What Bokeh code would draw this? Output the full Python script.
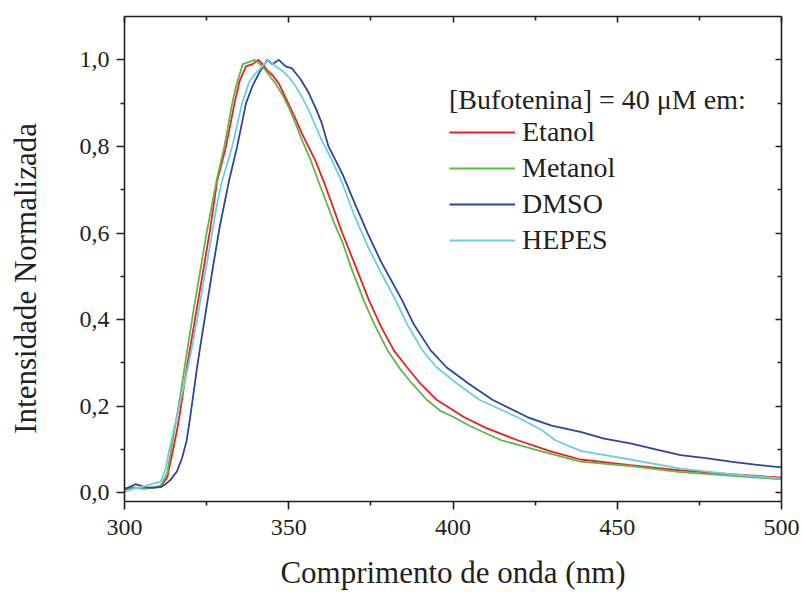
from bokeh.plotting import figure
from bokeh.models import (Legend, LegendItem, LinearAxis, FixedTicker, Range1d,
                          CustomJSTickFormatter)
from bokeh.embed import file_html
from bokeh.resources import INLINE

# ---------------- data ----------------
etanol_x = [300, 303, 306, 309, 311, 313, 314.8, 316, 317, 318, 319, 320, 322, 324, 326, 328.2,
            330.9, 333.5, 335, 337, 339, 340.8, 342, 343.5, 345, 347, 349.5, 352, 354,
            358.1, 360.6, 363, 366.3, 370, 374.4, 378, 382, 386, 390.1, 395, 403.3, 410,
            419.5, 430, 438.8, 454, 469.3, 484.5, 500]
etanol_y = [0.010, 0.012, 0.010, 0.012, 0.015, 0.035, 0.100, 0.145, 0.190, 0.240, 0.290, 0.335,
            0.425, 0.515, 0.605, 0.720, 0.800, 0.900, 0.950, 0.985, 0.990, 1.000, 0.990,
            0.975, 0.965, 0.945, 0.905, 0.865, 0.830, 0.767, 0.720, 0.670, 0.600, 0.530,
            0.445, 0.385, 0.329, 0.290, 0.252, 0.215, 0.175, 0.150, 0.122, 0.095, 0.077,
            0.064, 0.052, 0.043, 0.035]

metanol_x = [300, 303, 306, 309, 311, 313, 314, 315, 316, 317, 318, 319, 321, 323, 325, 327, 328,
             330.4, 332.8, 334, 336, 338, 339.5, 342, 344, 346, 348, 350, 352, 354, 356.6,
             359, 362, 364, 366.3, 369, 372.8, 376, 380, 384, 387.6, 392, 396, 400.2, 405,
             414.5, 425, 438.8, 454, 469.3, 484.5, 500]
metanol_y = [0.008, 0.012, 0.010, 0.013, 0.016, 0.045, 0.090, 0.135, 0.180, 0.225, 0.275, 0.325,
             0.420, 0.510, 0.600, 0.680, 0.720, 0.800, 0.900, 0.940, 0.990, 0.995, 1.000,
             0.985, 0.965, 0.945, 0.920, 0.890, 0.855, 0.815, 0.770, 0.720, 0.660, 0.620,
             0.580, 0.520, 0.445, 0.390, 0.330, 0.285, 0.252, 0.215, 0.190, 0.175, 0.155,
             0.122, 0.100, 0.072, 0.062, 0.048, 0.040, 0.031]

dmso_x = [300, 302, 303.3, 305, 307, 309, 311, 312.5, 314, 316, 317.5, 318.9, 320, 321.1, 322,
          323, 325, 327, 329, 331.8, 334.3, 337, 339, 341, 343.5, 345, 347, 349, 351,
          353.6, 356, 358.1, 360, 362.1, 366.3, 370, 374, 378, 384.5, 388, 393.2, 398,
          404.8, 412, 422.6, 430, 438.8, 446, 454, 462, 469.3, 477, 484.5, 492, 500]
dmso_y = [0.008, 0.015, 0.020, 0.016, 0.012, 0.012, 0.013, 0.020, 0.030, 0.050, 0.080,
          0.120, 0.175, 0.235, 0.285, 0.335, 0.430, 0.525, 0.615, 0.720, 0.800, 0.900, 0.940,
          0.970, 1.000, 0.990, 1.000, 0.985, 0.980, 0.955, 0.925, 0.890, 0.855, 0.800,
          0.737, 0.670, 0.600, 0.535, 0.445, 0.390, 0.329, 0.290, 0.252, 0.215, 0.175,
          0.155, 0.141, 0.125, 0.114, 0.100, 0.087, 0.080, 0.072, 0.065, 0.059]

hepes_x = [300, 303, 306, 309, 311, 312.5, 313.5, 315, 316.5, 318, 320, 322, 324, 326, 328,
           329.7, 332.8, 335.8, 338, 340, 342, 343.8, 346, 348, 350, 352, 354, 356, 358,
           360, 362.7, 366.3, 370, 374, 378, 382.5, 386, 390.7, 395, 401.3, 408, 419.5,
           427, 431, 438.8, 454, 469.3, 484.5, 500]
hepes_y = [0.002, 0.010, 0.015, 0.022, 0.026, 0.055, 0.095, 0.145, 0.195, 0.245, 0.315,
           0.395, 0.485, 0.570, 0.660, 0.720, 0.800, 0.900, 0.950, 0.970, 0.985, 1.000,
           0.985, 0.975, 0.960, 0.940, 0.915, 0.885, 0.850, 0.815, 0.775, 0.715, 0.640,
           0.570, 0.510, 0.445, 0.390, 0.329, 0.290, 0.252, 0.215, 0.175, 0.145, 0.122,
           0.097, 0.077, 0.056, 0.043, 0.033]

series_names = ["Etanol", "Metanol", "DMSO", "HEPES"]
legend_title = "[Bufotenina] = 40 \u03bcM em:"
x_title = "Comprimento de onda (nm)"
y_title = "Intensidade Normalizada"
x_ticks = [300, 350, 400, 450, 500]
x_minor = [325, 375, 425, 475]
y_ticks = [0.0, 0.2, 0.4, 0.6, 0.8, 1.0]
y_minor = [0.1, 0.3, 0.5, 0.7, 0.9]

# ---------------- styling ----------------
FONT = "Liberation Serif"
TXT = "#231f20"
colors = ["#f01c24", "#5cb946", "#2c46a0", "#6ccfe0"]

p = figure(width=800, height=592, output_backend="svg", toolbar_location=None,
           x_range=Range1d(300, 500), y_range=Range1d(-0.02, 1.1),
           min_border_left=124, min_border_right=19, min_border_top=16,
           min_border_bottom=90, x_axis_location=None, y_axis_location=None)
p.grid.visible = False
p.outline_line_color = None
p.background_fill_color = "white"
p.border_fill_color = "white"

fmt = CustomJSTickFormatter(code="return tick.toFixed(1).replace('.', ',');")


def style_axis(ax, labels=True, inward=False):
    ax.axis_line_color = TXT
    ax.axis_line_width = 1.6
    ax.major_tick_line_color = TXT
    ax.minor_tick_line_color = TXT
    ax.major_tick_line_width = 1.6
    ax.minor_tick_line_width = 1.6
    if inward:
        ax.major_tick_in = 6
        ax.major_tick_out = 0
        ax.minor_tick_in = 4
        ax.minor_tick_out = 0
    else:
        ax.major_tick_in = 0
        ax.major_tick_out = 8
        ax.minor_tick_in = 0
        ax.minor_tick_out = 4
    if not labels:
        ax.major_label_text_font_size = "0px"
        ax.major_label_text_alpha = 0
    else:
        ax.major_label_text_font = FONT
        ax.major_label_text_font_size = "24px"
        ax.major_label_text_color = TXT
        ax.axis_label_text_font = FONT
        ax.axis_label_text_font_size = "31px"
        ax.axis_label_text_font_style = "normal"
        ax.axis_label_text_color = TXT


xb = LinearAxis(ticker=FixedTicker(ticks=x_ticks, minor_ticks=x_minor),
                axis_label=x_title)
style_axis(xb)
xb.major_label_standoff = 10
xb.axis_label_standoff = 17
p.add_layout(xb, "below")

# trailing no-break spaces shift the (centred) title slightly downwards, as in the reference
yl = LinearAxis(ticker=FixedTicker(ticks=y_ticks, minor_ticks=y_minor), formatter=fmt,
                axis_label=y_title + "\u00a0" * 5)
style_axis(yl)
yl.major_label_standoff = 7
yl.axis_label_standoff = 34
p.add_layout(yl, "left")

xt = LinearAxis(ticker=FixedTicker(ticks=x_ticks, minor_ticks=x_minor))
style_axis(xt, labels=False, inward=True)
p.add_layout(xt, "above")

yr = LinearAxis(ticker=FixedTicker(ticks=y_ticks, minor_ticks=y_minor))
style_axis(yr, labels=False, inward=True)
p.add_layout(yr, "right")

data = [(etanol_x, etanol_y), (metanol_x, metanol_y), (dmso_x, dmso_y), (hepes_x, hepes_y)]
renderers = []
for (xs, ys), c in zip(data, colors):
    renderers.append(p.line(xs, ys, line_color=c, line_width=1.8))

legend = Legend(items=[LegendItem(label=n, renderers=[r]) for n, r in zip(series_names, renderers)],
                location=(325, 245), title=legend_title,
                title_text_font=FONT, title_text_font_size="28px", title_text_font_style="normal",
                title_text_color=TXT, title_standoff=0,
                label_text_font=FONT, label_text_font_size="28px", label_text_color=TXT,
                glyph_width=66, glyph_height=22, label_height=22, label_standoff=7,
                spacing=4, padding=0, margin=0,
                border_line_color=None, background_fill_alpha=0)
p.add_layout(legend)

open("out.html", "w").write(file_html(p, INLINE))
